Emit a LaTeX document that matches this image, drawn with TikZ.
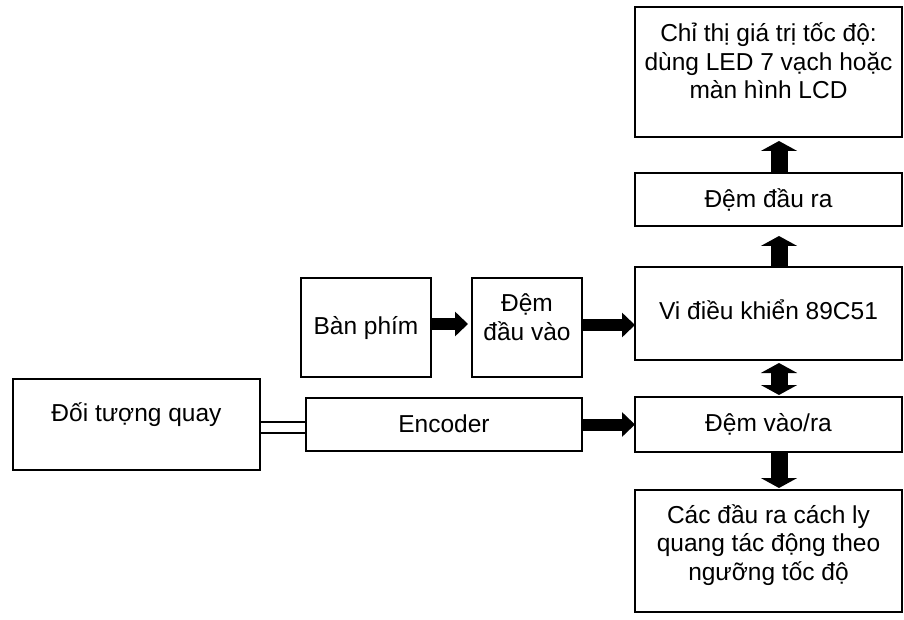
\documentclass[tikz,border=0pt]{standalone}
\usepackage{fontspec}
\setmainfont{Liberation Sans}
\usetikzlibrary{arrows.meta,calc}

\tikzset{
  blk/.style={draw, line width=1.5pt, inner sep=0pt, outer sep=0pt, anchor=north west},
  lbl/.style={align=center, inner sep=0pt, font=\fontsize{24.5}{28.5}\selectfont},
  harrow/.style={line width=12pt, -{Triangle[width=24pt,length=13pt]}},
  varrow/.style={line width=17pt, -{Triangle[width=36pt,length=10pt]}},
  vdarrow/.style={line width=17pt, {Triangle[width=36pt,length=10pt]}-{Triangle[width=36pt,length=10pt]}},
  shaft/.style={line width=1.5pt}
}

\begin{document}
\begin{tikzpicture}[x=1pt,y=-1pt]
\useasboundingbox (0,0) rectangle (904,620);

% blocks
\node[blk, minimum width=267pt, minimum height=130pt] (disp)  at (635,7)   {};
\node[blk, minimum width=267pt, minimum height=53pt]  (obuf)  at (635,173) {};
\node[blk, minimum width=267pt, minimum height=93pt]  (mcu)   at (635,267) {};
\node[blk, minimum width=267pt, minimum height=55pt]  (iobuf) at (635,397) {};
\node[blk, minimum width=267pt, minimum height=122pt] (outs)  at (635,490) {};
\node[blk, minimum width=130pt, minimum height=99pt]  (kbd)   at (301,278) {};
\node[blk, minimum width=110pt, minimum height=99pt]  (ibuf)  at (472,278) {};
\node[blk, minimum width=276pt, minimum height=53pt]  (enc)   at (306,398) {};
\node[blk, minimum width=247pt, minimum height=91pt]  (obj)   at (13,379)  {};

% labels
\node[lbl] (t-disp)  at (768.5,61)  {Chỉ thị giá trị tốc độ:\\dùng LED 7 vạch hoặc\\màn hình LCD};
\node[lbl] (t-obuf)  at (768.5,200) {Đệm đầu ra};
\node[lbl] (t-mcu)   at (768.5,310) {Vi điều khiển 89C51};
\node[lbl] (t-iobuf) at (768.5,424) {Đệm vào/ra};
\node[lbl] (t-outs)  at (768.5,545) {Các đầu ra cách ly\\quang tác động theo\\ngưỡng tốc độ};
\node[lbl] (t-kbd)   at (366,328)   {Bàn phím};
\node[lbl] (t-ibuf)  at (527,317)   {Đệm\\đầu vào};
\node[lbl] (t-enc)   at (444,424)   {Encoder};
\node[lbl] (t-obj)   at (136.5,415) {Đối tượng quay};

% shaft between the rotating object and the encoder
\draw[shaft] ([yshift=2.5pt]obj.east) -- ([yshift=2.5pt]obj.east -| enc.west);
\draw[shaft] ([yshift=-8.5pt]obj.east) -- ([yshift=-8.5pt]obj.east -| enc.west);

% horizontal block arrows
\draw[harrow, shorten >=4pt] ([yshift=3.5pt]kbd.east) -- ([yshift=3.5pt]kbd.east -| ibuf.west);
\draw[harrow] ([yshift=2.5pt]ibuf.east) -- ([yshift=2.5pt]ibuf.east -| mcu.west);
\draw[harrow] (enc.east) -- (enc.east -| iobuf.west);

% vertical block arrows
\draw[varrow, shorten >=4pt] ([xshift=10.5pt]obuf.north) -- ([xshift=10.5pt]obuf.north |- disp.south);
\draw[varrow, shorten >=10pt] ([xshift=10.5pt]mcu.north) -- ([xshift=10.5pt]mcu.north |- obuf.south);
\draw[vdarrow, shorten <=3pt, shorten >=2pt] ([xshift=10.5pt]mcu.south) -- ([xshift=10.5pt]mcu.south |- iobuf.north);
\draw[varrow, shorten >=2pt] ([xshift=10.5pt]iobuf.south) -- ([xshift=10.5pt]iobuf.south |- outs.north);
\end{tikzpicture}
\end{document}
